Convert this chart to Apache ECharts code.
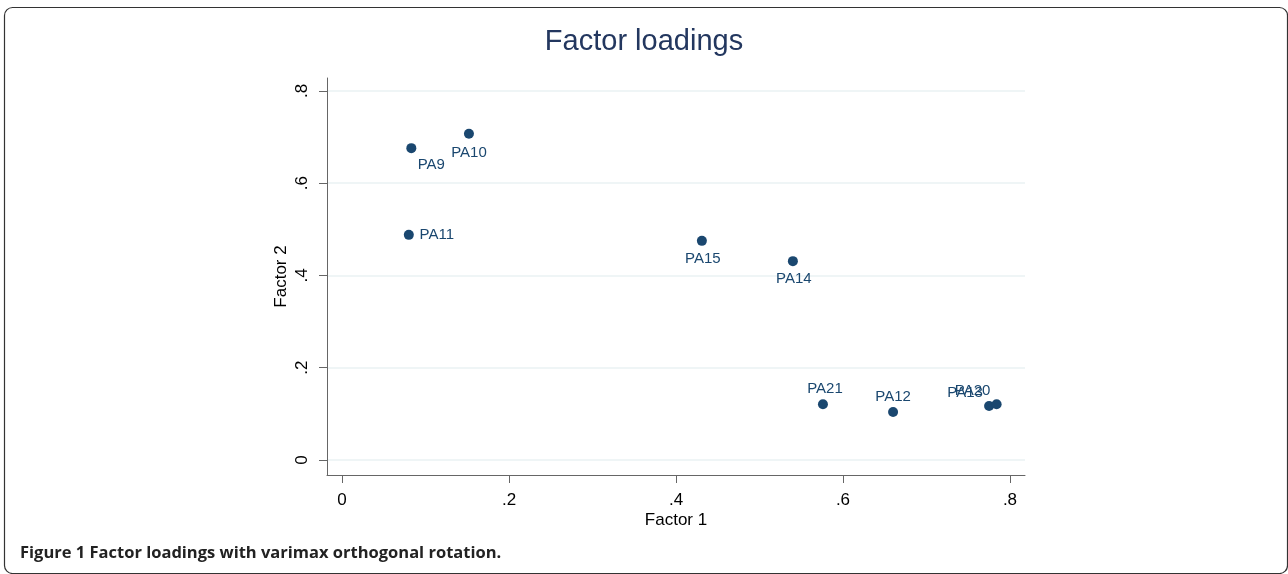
<!DOCTYPE html>
<html>
<head>
<meta charset="utf-8">
<script src="https://cdn.jsdelivr.net/npm/echarts@6/dist/echarts.min.js"></script>
<style>
html,body{margin:0;padding:0;background:#fff;}
#c{width:1288px;height:574px;}
</style>
</head>
<body>
<div id="c"></div>
<script>
// ---- data ----
const names = ['PA9','PA10','PA11','PA15','PA14','PA21','PA12','PA13','PA20'];
const factor1 = [0.083, 0.152, 0.080, 0.431, 0.540, 0.576, 0.660, 0.775, 0.784];
const factor2 = [0.676, 0.707, 0.488, 0.475, 0.431, 0.121, 0.104, 0.117, 0.121];
const xTicks = [0, 0.2, 0.4, 0.6, 0.8];
const yTicks = [0, 0.2, 0.4, 0.6, 0.8];

// ---- label placement (style), pixel offsets of label centre from marker ----
const labelOffset = {
  PA9:[20,17], PA10:[0,19], PA11:[28,0], PA15:[1,18], PA14:[1,18],
  PA21:[2,-15], PA12:[0,-15], PA13:[-24,-13], PA20:[-24,-13]
};

const navy = '#1a476f';
const fmt = v => (Math.abs(v) < 1e-9 ? '0' : String(+v.toFixed(2)).replace(/^0\./, '.'));

const data = names.map((n, i) => ({ name: n, value: [factor1[i], factor2[i]] }));

const chart = echarts.init(document.getElementById('c'), null, {renderer: 'canvas'});
chart.setOption({
  backgroundColor: '#fff',
  animation: false,
  title: {
    text: 'Factor loadings', left: 'center', top: 22,
    textStyle: {fontFamily: 'Liberation Sans', fontSize: 29, fontWeight: 'normal', color: '#23375f'}
  },
  grid: {left: 327, right: 263, top: 78, bottom: 99, containLabel: false},
  xAxis: {
    type: 'value', min: -0.018, max: 0.818,
    name: 'Factor 1', nameLocation: 'middle', nameGap: 37, nameMoveOverlap: false,
    nameTextStyle: {fontFamily: 'Liberation Sans', fontSize: 17, color: '#000'},
    axisLine: {show: true, onZero: false, lineStyle: {color: '#666', width: 1}},
    axisTick: {show: true, length: 8, customValues: xTicks, lineStyle: {color: '#666'}},
    axisLabel: {customValues: xTicks, formatter: fmt, margin: 17, fontFamily: 'Liberation Sans', fontSize: 17, color: '#000'},
    splitLine: {show: false}
  },
  yAxis: {
    type: 'value', min: -0.0325, max: 0.828,
    name: 'Factor 2', nameLocation: 'middle', nameGap: 37, nameRotate: 90, nameMoveOverlap: false,
    nameTextStyle: {fontFamily: 'Liberation Sans', fontSize: 17, color: '#000'},
    axisLine: {show: true, onZero: false, lineStyle: {color: '#666', width: 1}},
    axisTick: {show: true, length: 8, customValues: yTicks, lineStyle: {color: '#666'}},
    axisLabel: {customValues: yTicks, formatter: fmt, rotate: 90, margin: 16, fontFamily: 'Liberation Sans', fontSize: 17, color: '#000'},
    splitLine: {show: true, lineStyle: {color: '#eaf2f3', width: 1.5}}
  },
  series: [{
    type: 'scatter', symbol: 'circle', symbolSize: 10,
    itemStyle: {color: navy, opacity: 1},
    label: {show: true, position: 'inside', formatter: '{b}', fontFamily: 'Liberation Sans', fontSize: 15, color: navy},
    labelLayout: function (p) {
      const off = labelOffset[names[p.dataIndex]] || [0, 0];
      return {dx: off[0], dy: off[1], hideOverlap: false};
    },
    emphasis: {disabled: true},
    data: data
  }],
  graphic: [
    {type: 'rect', left: 2, top: 5, shape: {width: 1283, height: 566, r: 8}, style: {fill: 'none', stroke: '#333', lineWidth: 1.2}, silent: true},
    {type: 'text', left: 20, top: 545, style: {text: 'Figure 1 Factor loadings with varimax orthogonal rotation.', font: 'bold 16.5px "Open Sans"', fill: '#222'}}
  ]
});
</script>
</body>
</html>
